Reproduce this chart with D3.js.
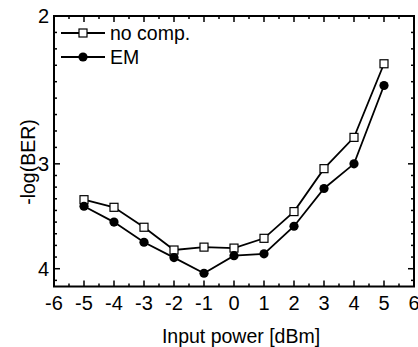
<!DOCTYPE html>
<html>
<head>
<meta charset="utf-8">
<script src="https://cdn.jsdelivr.net/npm/d3@7"></script>
<style>
  body { margin: 0; background: #fff; }
  text { font-family: "Liberation Sans", Arial, sans-serif; fill: #000; }
</style>
</head>
<body>
<div id="chart"></div>
<script>
var svgWidth = 418;
var svgHeight = 347;

var margin = { top: 16, right: 4, bottom: 60.5, left: 54 };

var chartWidth = svgWidth - margin.left - margin.right;
var chartHeight = svgHeight - margin.top - margin.bottom;

// data
var power = [-5, -4, -3, -2, -1, 0, 1, 2, 3, 4, 5];
var noComp = [3.31, 3.38, 3.57, 3.80, 3.77, 3.78, 3.68, 3.42, 3.04, 2.79, 2.28];
var em = [3.37, 3.52, 3.72, 3.88, 4.05, 3.86, 3.84, 3.56, 3.21, 3.00, 2.42];
var xTicks = [-6, -5, -4, -3, -2, -1, 0, 1, 2, 3, 4, 5, 6];
var yTicks = [2, 3, 4];
var seriesNames = ["no comp.", "EM"];

var svg = d3.select("#chart")
    .append("svg")
    .attr("width", svgWidth)
    .attr("height", svgHeight);

var chartGroup = svg.append("g")
    .attr("transform", `translate(${margin.left}, ${margin.top})`);

var xScale = d3.scaleLinear()
    .domain([-6, 6])
    .range([0, chartWidth]);

var yScale = d3.scaleLog()
    .domain([2, 4.2])
    .range([0, chartHeight]);

// minor ticks: x at half units, y at 8 even (log) steps between majors
var xMinor = d3.range(-5.5, 6, 1);
var yMinor = [];
for (var i = 0; i < yTicks.length - 1; i++) {
    var a = Math.log10(yTicks[i]), b = Math.log10(yTicks[i + 1]);
    for (var j = 1; j < 9; j++) yMinor.push(Math.pow(10, a + j * (b - a) / 9));
}
var lastStep = (Math.log10(yTicks[2]) - Math.log10(yTicks[1])) / 9;
for (var v = Math.log10(yTicks[2]) + lastStep; Math.pow(10, v) < 4.2; v += lastStep) yMinor.push(Math.pow(10, v));

var majorLen = 6, minorLen = 3;
var tickGroup = chartGroup.append("g")
    .attr("stroke", "#000")
    .attr("stroke-width", 1.5);

function xTick(vals, len) {
    vals.forEach(function(d) {
        var x = xScale(d);
        tickGroup.append("line").attr("x1", x).attr("x2", x).attr("y1", chartHeight).attr("y2", chartHeight - len);
        tickGroup.append("line").attr("x1", x).attr("x2", x).attr("y1", 0).attr("y2", len);
    });
}
function yTick(vals, len) {
    vals.forEach(function(d) {
        var y = yScale(d);
        tickGroup.append("line").attr("x1", 0).attr("x2", len).attr("y1", y).attr("y2", y);
        tickGroup.append("line").attr("x1", chartWidth).attr("x2", chartWidth - len).attr("y1", y).attr("y2", y);
    });
}
xTick(xTicks, majorLen);
xTick(xMinor, minorLen);
yTick(yTicks, majorLen);
yTick(yMinor, minorLen);

// frame
chartGroup.append("rect")
    .attr("x", 0)
    .attr("y", 0)
    .attr("width", chartWidth)
    .attr("height", chartHeight)
    .attr("fill", "none")
    .attr("stroke", "#000")
    .attr("stroke-width", 2);

// tick labels
chartGroup.selectAll(".xlab")
    .data(xTicks)
    .enter()
    .append("text")
    .attr("x", d => xScale(d))
    .attr("y", chartHeight + 23)
    .attr("text-anchor", "middle")
    .style("font-size", "20px")
    .text(d => d);

chartGroup.selectAll(".ylab")
    .data(yTicks)
    .enter()
    .append("text")
    .attr("x", -5)
    .attr("y", d => yScale(d))
    .attr("dy", "0.36em")
    .attr("text-anchor", "end")
    .style("font-size", "20px")
    .text(d => d);

// axis titles
svg.append("text")
    .attr("x", 241)
    .attr("y", 343)
    .attr("text-anchor", "middle")
    .style("font-size", "19.5px")
    .text("Input power [dBm]");

svg.append("text")
    .attr("transform", "translate(35, 162) rotate(-90)")
    .attr("text-anchor", "middle")
    .style("font-size", "19.5px")
    .text("-log(BER)");

// series
var createLine = d3.line()
    .x((d, i) => xScale(power[i]))
    .y(d => yScale(d));

var lineGroup = chartGroup.append("g");

lineGroup.append("path")
    .attr("d", createLine(noComp))
    .attr("fill", "none")
    .attr("stroke", "#000")
    .attr("stroke-width", 1.8);

lineGroup.append("path")
    .attr("d", createLine(em))
    .attr("fill", "none")
    .attr("stroke", "#000")
    .attr("stroke-width", 1.8);

var sq = 8;
lineGroup.selectAll(".sq")
    .data(noComp)
    .enter()
    .append("rect")
    .attr("x", (d, i) => xScale(power[i]) - sq / 2)
    .attr("y", d => yScale(d) - sq / 2)
    .attr("width", sq)
    .attr("height", sq)
    .attr("fill", "#fff")
    .attr("stroke", "#000")
    .attr("stroke-width", 1.2);

lineGroup.selectAll(".dot")
    .data(em)
    .enter()
    .append("circle")
    .attr("cx", (d, i) => xScale(power[i]))
    .attr("cy", d => yScale(d))
    .attr("r", 4.6)
    .attr("fill", "#000");

// legend
var legend = svg.append("g");
seriesNames.forEach(function(name, i) {
    var y = 33 + i * 24;
    legend.append("line")
        .attr("x1", 61).attr("x2", 105)
        .attr("y1", y).attr("y2", y)
        .attr("stroke", "#000")
        .attr("stroke-width", 1.8);
    if (i === 0) {
        legend.append("rect")
            .attr("x", 83 - sq / 2).attr("y", y - sq / 2)
            .attr("width", sq).attr("height", sq)
            .attr("fill", "#fff").attr("stroke", "#000").attr("stroke-width", 1.2);
    } else {
        legend.append("circle")
            .attr("cx", 83).attr("cy", y).attr("r", 4.6)
            .attr("fill", "#000");
    }
    legend.append("text")
        .attr("x", 110)
        .attr("y", y)
        .attr("dy", "0.36em")
        .style("font-size", "19.5px")
        .text(name);
});
</script>
</body>
</html>
